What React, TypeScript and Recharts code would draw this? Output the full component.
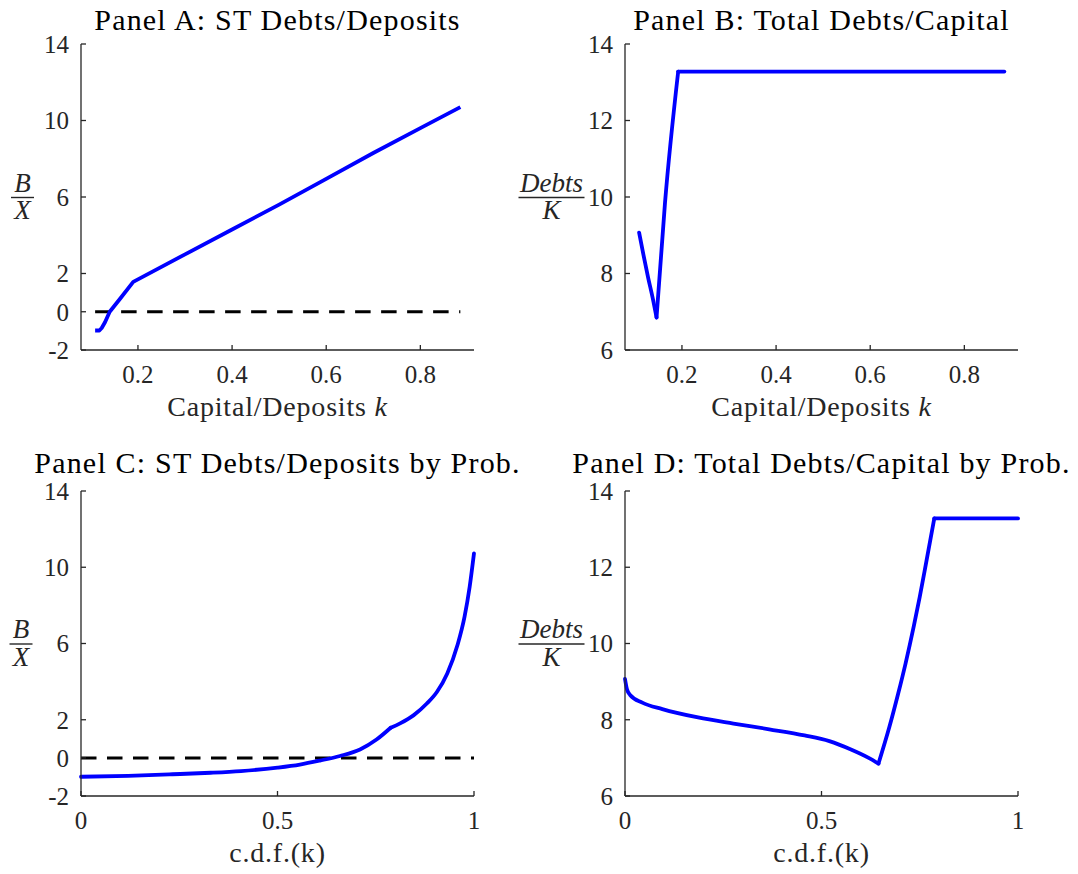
import React from "react";
import { LineChart, Line, XAxis, YAxis, Customized } from "recharts";

// Panel A: ST debts / deposits against capital/deposits k
const kA = [0.109, 0.118, 0.123, 0.13, 0.14, 0.162, 0.19, 0.3, 0.4, 0.5, 0.6, 0.7, 0.8, 0.885];
const bxA = [-0.98, -0.98, -0.85, -0.55, 0.0, 0.68, 1.56, 3.0, 4.3, 5.6, 6.95, 8.3, 9.6, 10.7];
const zeroKA = [0.109, 0.885];

// Panel B: total debts / capital against k
const kB = [0.109, 0.118, 0.128, 0.138, 0.146, 0.164, 0.192, 0.4, 0.6, 0.885];
const dkB = [9.07, 8.5, 7.9, 7.35, 6.85, 9.85, 13.28, 13.28, 13.28, 13.28];

// Panel C: ST debts / deposits against c.d.f.(k)
const cdfC = [0, 0.12, 0.233, 0.33, 0.407, 0.5, 0.557, 0.608, 0.659, 0.71, 0.752, 0.788, 0.812, 0.846, 0.88, 0.906, 0.932, 0.958, 0.976, 0.989, 1.0];
const bxC = [-0.99, -0.94, -0.86, -0.78, -0.69, -0.51, -0.35, -0.14, 0.1, 0.44, 0.96, 1.58, 1.81, 2.23, 2.85, 3.47, 4.43, 5.92, 7.41, 8.98, 10.73];
const zeroCdf = [0, 1];

// Panel D: total debts / capital against c.d.f.(k)
const cdfD = [0, 0.005, 0.013, 0.044, 0.095, 0.186, 0.276, 0.367, 0.457, 0.52, 0.575, 0.62, 0.645, 0.673, 0.695, 0.714, 0.735, 0.75, 0.767, 0.787, 1.0];
const dkD = [9.07, 8.8, 8.65, 8.45, 8.28, 8.06, 7.9, 7.75, 7.59, 7.44, 7.22, 7.0, 6.85, 7.82, 8.68, 9.48, 10.46, 11.22, 12.16, 13.28, 13.28];

// ticks
const kTicks = [0.2, 0.4, 0.6, 0.8];
const cdfTicks = [0, 0.5, 1];
const bxTicks = [-2, 0, 2, 6, 10, 14];
const dkTicks = [6, 8, 10, 12, 14];

const FONT = "'Liberation Serif', 'Times New Roman', serif";
const AX = "#262626";
const BLUE = "#0000ff";

type Pt = { x: number; y: number };
const zip = (xs: number[], ys: number[]): Pt[] => xs.map((x, i) => ({ x, y: ys[i] }));
// split a curve at its kinks so each smooth piece is drawn on its own
const pieces = (xs: number[], ys: number[], cuts: number[]): Pt[][] => {
  const bounds = [0, ...cuts, xs.length - 1];
  return bounds.slice(1).map((end, i) => zip(xs.slice(bounds[i], end + 1), ys.slice(bounds[i], end + 1)));
};

type Plot = { l: number; t: number; r: number; b: number };

interface PanelProps {
  left: number;
  top: number;
  w: number;
  h: number;
  plot: Plot;
  xDomain: [number, number];
  xTicks: number[];
  yDomain: [number, number];
  yTicks: number[];
  segments: Pt[][];
  curve: "linear" | "monotone";
  zero?: Pt[];
  title: string;
  titleY: number;
  xLabel: React.ReactNode;
  num: string;
  den: string;
  fracX: number;
  barW: number;
}

const Panel = (p: PanelProps) => {
  const { plot } = p;
  const margin = { left: plot.l - 60, top: plot.t, right: p.w - plot.r, bottom: p.h - plot.b - 50 };
  const cx = (plot.l + plot.r) / 2;
  const midY = (plot.t + plot.b) / 2;
  const tickFont = { fill: AX, fontSize: 25, fontFamily: FONT };
  const line = { stroke: AX, strokeWidth: 1.3 };

  return (
    <div style={{ position: "absolute", left: p.left, top: p.top }}>
      <LineChart width={p.w} height={p.h} margin={margin} style={{ fontFamily: FONT }}>
        <XAxis
          xAxisId="b"
          type="number"
          dataKey="x"
          domain={p.xDomain}
          ticks={p.xTicks}
          interval={0}
          height={50}
          tickSize={-5}
          tickMargin={20}
          tick={tickFont}
          axisLine={line}
          tickLine={line}
        />
        <XAxis
          xAxisId="t"
          orientation="top"
          type="number"
          domain={p.xDomain}
          ticks={p.xTicks}
          interval={0}
          height={0}
          tickSize={-5}
          tick={false}
          axisLine={line}
          tickLine={line}
        />
        <YAxis
          yAxisId="l"
          type="number"
          domain={p.yDomain}
          ticks={p.yTicks}
          interval={0}
          width={60}
          tickSize={-5}
          tickMargin={17}
          tick={tickFont}
          axisLine={line}
          tickLine={line}
        />
        <YAxis
          yAxisId="r"
          orientation="right"
          type="number"
          domain={p.yDomain}
          ticks={p.yTicks}
          interval={0}
          width={0}
          tickSize={-5}
          tick={false}
          axisLine={line}
          tickLine={line}
        />
        {p.zero && (
          <Line
            xAxisId="b"
            yAxisId="l"
            data={p.zero}
            dataKey="y"
            type="linear"
            stroke="#000000"
            strokeWidth={3}
            strokeDasharray="15.5 10.5"
            dot={false}
            activeDot={false}
            isAnimationActive={false}
          />
        )}
        {p.segments.map((seg, i) => (
          <Line
            key={i}
            xAxisId="b"
            yAxisId="l"
            data={seg}
            dataKey="y"
            type={p.curve}
            stroke={BLUE}
            strokeWidth={3.8}
            strokeLinejoin="round"
            strokeLinecap={p.segments.length > 1 ? "round" : "butt"}
            dot={false}
            activeDot={false}
            isAnimationActive={false}
          />
        ))}
        <Customized
          component={() => (
            <g style={{ fontFamily: FONT }}>
              <text x={cx} y={p.titleY} textAnchor="middle" fontSize={30} letterSpacing={1.2} fill="#000">
                {p.title}
              </text>
              <text x={cx} y={plot.b + 66} textAnchor="middle" fontSize={28} letterSpacing={0.8} fill={AX}>
                {p.xLabel}
              </text>
              <text x={p.fracX} y={midY - 5.5} textAnchor="middle" fontSize={27} fontStyle="italic" fill={AX}>
                {p.num}
              </text>
              <line x1={p.fracX - p.barW / 2} x2={p.fracX + p.barW / 2} y1={midY + 0.5} y2={midY + 0.5} stroke={AX} strokeWidth={1.4} />
              <text x={p.fracX} y={midY + 22} textAnchor="middle" fontSize={27} fontStyle="italic" fill={AX}>
                {p.den}
              </text>
            </g>
          )}
        />
      </LineChart>
    </div>
  );
};

const kLabel = (
  <>
    Capital/Deposits <tspan fontStyle="italic">k</tspan>
  </>
);

export default function App() {
  return (
    <div style={{ position: "absolute", left: 0, top: 0, width: 1078, height: 874, background: "#fff" }}>
      <Panel
        left={0}
        top={0}
        w={539}
        h={437}
        plot={{ l: 81, t: 44, r: 474, b: 350 }}
        xDomain={[0.079, 0.914]}
        xTicks={kTicks}
        yDomain={[-2, 14]}
        yTicks={bxTicks}
        segments={[zip(kA, bxA)]}
        curve="linear"
        zero={zip(zeroKA, [0, 0])}
        title="Panel A: ST Debts/Deposits"
        titleY={30}
        xLabel={kLabel}
        num="B"
        den="X"
        fracX={22.5}
        barW={23}
      />
      <Panel
        left={500}
        top={0}
        w={578}
        h={437}
        plot={{ l: 125, t: 44, r: 518, b: 350 }}
        xDomain={[0.079, 0.914]}
        xTicks={kTicks}
        yDomain={[6, 14]}
        yTicks={dkTicks}
        segments={pieces(kB, dkB, [4, 6])}
        curve="monotone"
        title="Panel B: Total Debts/Capital"
        titleY={30}
        xLabel={kLabel}
        num="Debts"
        den="K"
        fracX={51.5}
        barW={66}
      />
      <Panel
        left={0}
        top={437}
        w={539}
        h={437}
        plot={{ l: 81, t: 54, r: 474, b: 359 }}
        xDomain={[0, 1]}
        xTicks={cdfTicks}
        yDomain={[-2, 14]}
        yTicks={bxTicks}
        segments={pieces(cdfC, bxC, [11])}
        curve="monotone"
        zero={zip(zeroCdf, [0, 0])}
        title="Panel C: ST Debts/Deposits by Prob."
        titleY={36}
        xLabel="c.d.f.(k)"
        num="B"
        den="X"
        fracX={21}
        barW={23}
      />
      <Panel
        left={500}
        top={437}
        w={578}
        h={437}
        plot={{ l: 125, t: 54, r: 518, b: 359 }}
        xDomain={[0, 1]}
        xTicks={cdfTicks}
        yDomain={[6, 14]}
        yTicks={dkTicks}
        segments={pieces(cdfD, dkD, [12, 19])}
        curve="monotone"
        title="Panel D: Total Debts/Capital by Prob."
        titleY={36}
        xLabel="c.d.f.(k)"
        num="Debts"
        den="K"
        fracX={51.5}
        barW={66}
      />
    </div>
  );
}
